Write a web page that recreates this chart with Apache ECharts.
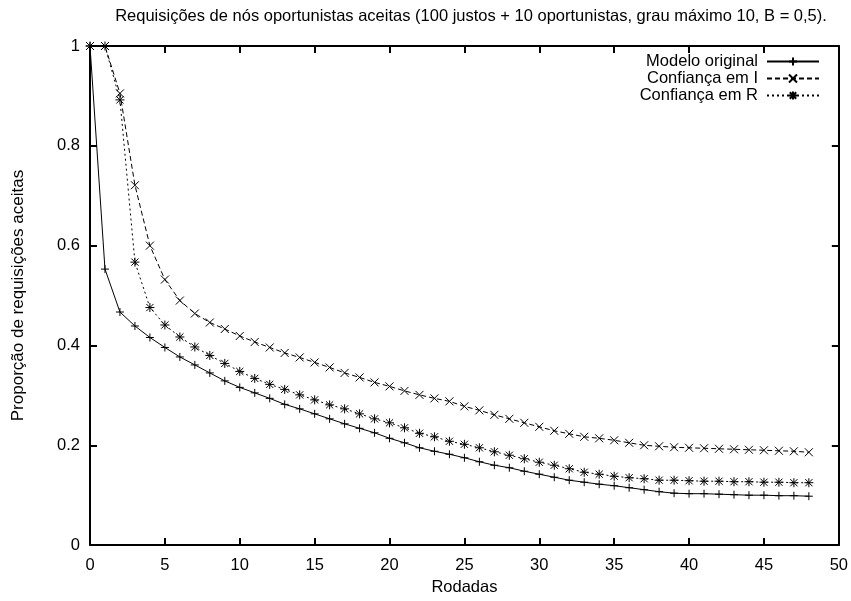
<!DOCTYPE html>
<html><head><meta charset="utf-8">
<script src="https://cdn.jsdelivr.net/npm/echarts@6/dist/echarts.min.js"></script>
<style>html,body{margin:0;padding:0;background:#fff}#c{width:851px;height:601px}</style>
</head><body><div id="c"></div>
<script>
var titleText = 'Requisições de nós oportunistas aceitas (100 justos + 10 oportunistas, grau máximo 10, B = 0,5).';
var xName = 'Rodadas';
var yName = 'Proporção de requisições aceitas';
var seriesNames = ['Modelo original', 'Confiança em I', 'Confiança em R'];
var rounds = [0,1,2,3,4,5,6,7,8,9,10,11,12,13,14,15,16,17,18,19,20,21,22,23,24,25,26,27,28,29,30,31,32,33,34,35,36,37,38,39,40,41,42,43,44,45,46,47,48];
var modeloOriginal = [1.0,0.553,0.467,0.439,0.416,0.396,0.377,0.361,0.345,0.329,0.316,0.305,0.294,0.282,0.273,0.263,0.253,0.243,0.234,0.225,0.214,0.205,0.195,0.188,0.182,0.175,0.167,0.160,0.155,0.148,0.142,0.136,0.130,0.126,0.122,0.119,0.115,0.111,0.107,0.104,0.103,0.103,0.102,0.101,0.100,0.100,0.099,0.099,0.098];
var confiancaI = [1.0,1.0,0.905,0.721,0.600,0.532,0.490,0.464,0.446,0.433,0.419,0.407,0.396,0.385,0.376,0.366,0.356,0.345,0.336,0.326,0.318,0.309,0.301,0.294,0.288,0.278,0.270,0.261,0.253,0.245,0.237,0.229,0.223,0.217,0.214,0.210,0.205,0.200,0.198,0.196,0.195,0.194,0.193,0.192,0.191,0.190,0.189,0.188,0.186];
var confiancaR = [1.0,1.0,0.892,0.567,0.476,0.441,0.417,0.397,0.380,0.364,0.348,0.334,0.322,0.312,0.301,0.291,0.281,0.273,0.263,0.253,0.245,0.235,0.224,0.217,0.208,0.202,0.195,0.187,0.180,0.173,0.166,0.160,0.153,0.146,0.142,0.138,0.135,0.133,0.130,0.130,0.129,0.128,0.128,0.127,0.127,0.126,0.126,0.125,0.125];

function pairs(v){ return rounds.map(function(r,i){ return [r, v[i]]; }); }

var FONT = 'Liberation Sans';
var FS = 16.5;
var SYM_PLUS = 'path://M5,0L5,10M0,5L10,5';
var SYM_X = 'path://M0,0L10,10M0,10L10,0';
var SYM_STAR = 'path://M5,0L5,10M0,5L10,5M1,1L9,9M1,9L9,1';

function axisCommon(show){
  return {
    axisLine:{show:true, onZero:false, lineStyle:{color:'#000', width:2}},
    axisTick:{show:true, inside:true, length:7, lineStyle:{color:'#000', width:2}},
    splitLine:{show:false},
    axisLabel:{show:show, color:'#000', fontFamily:FONT, fontSize:FS}
  };
}

var chart = echarts.init(document.getElementById('c'), null, {renderer:'canvas'});
var xb = axisCommon(true), xt = axisCommon(false), yl = axisCommon(true), yr = axisCommon(false);
var option = {
  animation:false,
  backgroundColor:'#fff',
  title:{text:titleText, left:466, top:3, textAlign:'center',
    textStyle:{fontFamily:FONT, fontSize:16.5, fontWeight:'normal', color:'#000'}},
  grid:{left:90, right:12, top:46, bottom:51, containLabel:false},
  legend:{
    orient:'vertical', right:31, top:53, padding:0, itemGap:0, align:'right',
    itemWidth:52, itemHeight:10,
    textStyle:{fontFamily:FONT, fontSize:FS, color:'#000', lineHeight:17, padding:[0,4,0,0]},
    data:seriesNames
  },
  xAxis:[
    Object.assign(xb, {type:'value', position:'bottom', min:0, max:50, interval:5,
      name:xName, nameLocation:'middle', nameGap:32,
      nameTextStyle:{fontFamily:FONT, fontSize:FS, color:'#000'},
      axisLabel:Object.assign(xb.axisLabel, {margin:12})}),
    Object.assign(xt, {type:'value', position:'top', min:0, max:50, interval:5})
  ],
  yAxis:[
    Object.assign(yl, {type:'value', position:'left', min:0, max:1, interval:0.2,
      name:yName, nameLocation:'middle', nameGap:63,
      nameTextStyle:{fontFamily:FONT, fontSize:17, color:'#000'},
      axisLabel:Object.assign(yl.axisLabel, {margin:10, formatter:function(v){return String(+v.toFixed(1));}})}),
    Object.assign(yr, {type:'value', position:'right', min:0, max:1, interval:0.2})
  ],
  series:[
    {name:seriesNames[0], type:'line', data:pairs(modeloOriginal), symbol:SYM_PLUS, symbolSize:8,
      lineStyle:{color:'#000', width:1, type:'solid'},
      itemStyle:{color:'#000', borderColor:'#000', borderWidth:1}, z:3},
    {name:seriesNames[1], type:'line', data:pairs(confiancaI), symbol:SYM_X, symbolSize:8,
      lineStyle:{color:'#000', width:1, type:[5,3]},
      itemStyle:{color:'#000', borderColor:'#000', borderWidth:1}, z:2},
    {name:seriesNames[2], type:'line', data:pairs(confiancaR), symbol:SYM_STAR, symbolSize:9,
      lineStyle:{color:'#000', width:1, type:[2,3]},
      itemStyle:{color:'#000', borderColor:'#000', borderWidth:1}, z:2}
  ]
};
chart.setOption(option);
</script></body></html>
